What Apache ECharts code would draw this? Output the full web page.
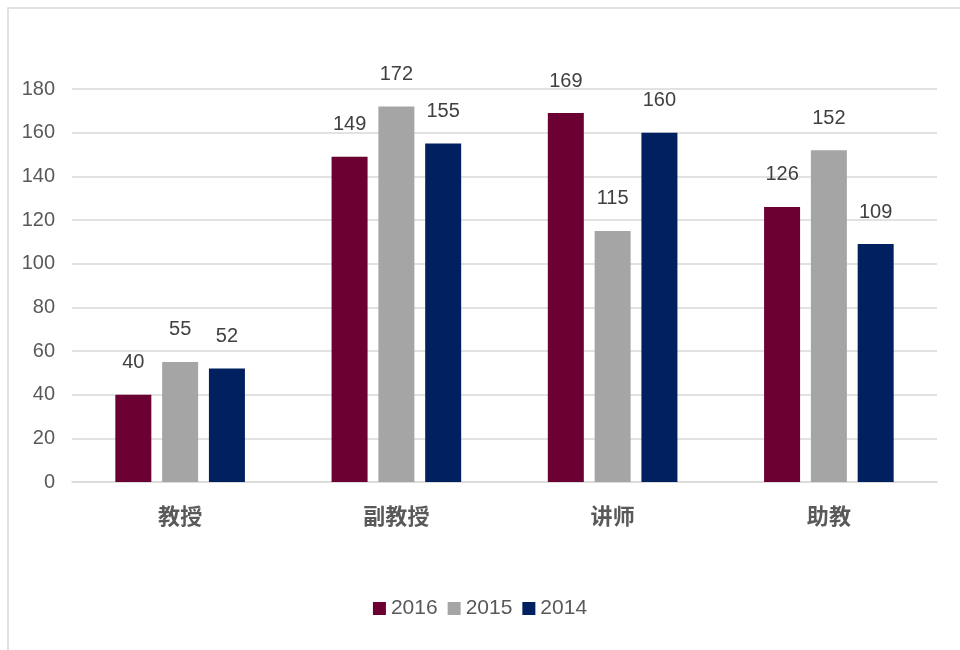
<!DOCTYPE html>
<html>
<head>
<meta charset="utf-8">
<script src="https://cdn.jsdelivr.net/npm/echarts@6/dist/echarts.min.js"></script>
<style>
  html, body { margin: 0; padding: 0; background: #fff; }
  #chart { width: 960px; height: 650px; }
</style>
</head>
<body>
<div id="chart"></div>
<script>
  var categories = ['教授', '副教授', '讲师', '助教']
  var seriesNames = ['2016', '2015', '2014']
  var data2016 = [40, 149, 169, 126]
  var data2015 = [55, 172, 115, 152]
  var data2014 = [52, 155, 160, 109]
  var colors = ['#6B0033', '#A5A5A5', '#002060']

  var numFont = '"Liberation Sans", sans-serif'

  function barSeries(name, data, color) {
    return {
      name: name,
      type: 'bar',
      data: data,
      barWidth: 36,
      barGap: '30%',
      itemStyle: { color: color },
      label: {
        show: true,
        position: 'top',
        distance: 22,
        color: '#404040',
        fontSize: 20,
        fontFamily: numFont
      }
    }
  }

  var chart = echarts.init(document.getElementById('chart'))
  chart.setOption({
    animation: false,
    color: colors,
    graphic: [{
      type: 'rect',
      shape: { x: 8, y: 8, width: 960, height: 660 },
      style: { fill: 'none', stroke: '#D9D9D9', lineWidth: 1.5 }
    }],
    grid: {
      left: 72,
      right: 23,
      top: 89,
      bottom: 168
    },
    legend: {
      bottom: 26,
      left: 'center',
      itemWidth: 13,
      itemHeight: 13,
      itemGap: 10,
      icon: 'rect',
      textStyle: { color: '#595959', fontSize: 21, fontFamily: numFont },
      data: seriesNames
    },
    xAxis: {
      type: 'category',
      data: categories,
      axisLine: { lineStyle: { color: '#D9D9D9', width: 1.5 } },
      axisTick: { show: false },
      axisLabel: {
        color: '#595959',
        fontSize: 22,
        fontWeight: 'bold',
        margin: 23,
        fontFamily: '"Noto Sans CJK SC", sans-serif'
      }
    },
    yAxis: {
      type: 'value',
      min: 0,
      max: 180,
      interval: 20,
      axisLine: { show: false },
      axisTick: { show: false },
      splitLine: { lineStyle: { color: '#D9D9D9', width: 1.5 } },
      axisLabel: {
        color: '#595959',
        fontSize: 20,
        margin: 17,
        fontFamily: numFont
      }
    },
    series: [
      barSeries(seriesNames[0], data2016, colors[0]),
      barSeries(seriesNames[1], data2015, colors[1]),
      barSeries(seriesNames[2], data2014, colors[2])
    ]
  })
</script>
</body>
</html>
